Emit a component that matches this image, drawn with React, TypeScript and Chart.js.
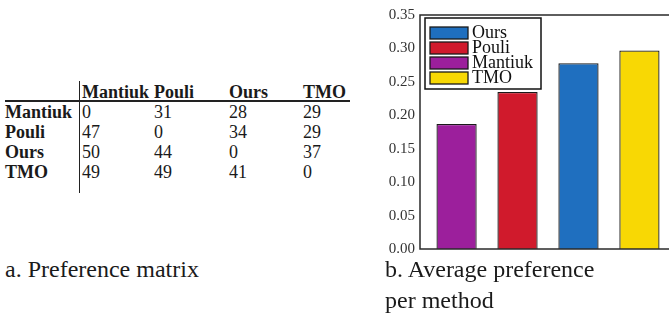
import React, { useEffect, useRef } from 'react';
import { Chart, registerables } from 'chart.js';

Chart.register(...registerables);

// ---- data ----
const methods = ['Mantiuk', 'Pouli', 'Ours', 'TMO'];
const avgPreference = [0.187, 0.235, 0.278, 0.297];
const barColors = ['#9c1f9c', '#d01a2c', '#1f6fbf', '#f8d804'];
const legendOrder = ['Ours', 'Pouli', 'Mantiuk', 'TMO'];
const yTicks = [0, 0.05, 0.1, 0.15, 0.2, 0.25, 0.3, 0.35];

const matrixCols = ['Mantiuk', 'Pouli', 'Ours', 'TMO'];
const matrixRows = ['Mantiuk', 'Pouli', 'Ours', 'TMO'];
const matrixValues = [
  [0, 31, 28, 29],
  [47, 0, 34, 29],
  [50, 44, 0, 37],
  [49, 49, 41, 0],
];

const captionA = 'a. Preference matrix';
const captionB1 = 'b. Average preference';
const captionB2 = 'per method';

const SERIF = '"Liberation Serif", "Times New Roman", serif';

const framePlugin = {
  id: 'frame',
  afterDatasetsDraw(chart: any) {
    const { ctx, chartArea: a } = chart;
    ctx.save();
    ctx.strokeStyle = '#2a2a2a';
    ctx.lineWidth = 1.5;
    ctx.strokeRect(a.left, a.top, a.right - a.left, a.bottom - a.top);
    ctx.restore();
  },
};

const legendPlugin = {
  id: 'boxLegend',
  afterDraw(chart: any) {
    const { ctx, chartArea: a } = chart;
    const bx = a.left + 5;
    const by = a.top + 3;
    const bw = 116;
    const bh = 71;
    ctx.save();
    ctx.fillStyle = '#ffffff';
    ctx.fillRect(bx, by, bw, bh);
    ctx.strokeStyle = '#111';
    ctx.lineWidth = 1.5;
    ctx.strokeRect(bx, by, bw, bh);
    legendOrder.forEach((name, k) => {
      const i = methods.indexOf(name);
      const cy = by + 15 + k * 15;
      ctx.fillStyle = barColors[i];
      ctx.fillRect(bx + 5, cy - 6, 38, 12);
      ctx.strokeStyle = '#1a1a1a';
      ctx.lineWidth = 1.3;
      ctx.strokeRect(bx + 5, cy - 6, 38, 12);
      ctx.fillStyle = '#111';
      ctx.font = '18px ' + SERIF;
      ctx.textBaseline = 'middle';
      ctx.textAlign = 'left';
      ctx.fillText(name, bx + 47, cy);
    });
    ctx.restore();
  },
};

function BarChart() {
  const ref = useRef<HTMLCanvasElement | null>(null);
  useEffect(() => {
    if (!ref.current) return;
    const chart = new Chart(ref.current, {
      type: 'bar',
      data: {
        datasets: [
          {
            data: methods.map((m, i) => ({ x: i, y: avgPreference[i] })),
            backgroundColor: barColors,
            borderColor: '#1a1a1a',
            borderWidth: 1.3,
            barPercentage: 0.66,
            categoryPercentage: 1,
          },
        ],
      },
      options: {
        animation: false,
        responsive: false,
        maintainAspectRatio: false,
        layout: { padding: { top: 15, right: 4, bottom: 11, left: 0 } },
        plugins: { legend: { display: false }, tooltip: { enabled: false } },
        scales: {
          x: {
            type: 'linear',
            min: -0.6,
            max: 3.6,
            offset: false,
            display: false,
            afterBuildTicks: (s: any) => {
              s.ticks = methods.map((m, i) => ({ value: i }));
            },
          },
          y: {
            min: 0,
            max: 0.35,
            grid: { display: false, drawTicks: false },
            border: { display: false },
            ticks: {
              font: { family: SERIF, size: 15 },
              color: '#333',
              padding: 5,
              callback: (v: any) => Number(v).toFixed(2),
            },
            afterBuildTicks: (s: any) => {
              s.ticks = yTicks.map((v) => ({ value: v }));
            },
            afterFit: (s: any) => {
              s.width = 40;
              s.paddingTop = 0;
              s.paddingBottom = 0;
            },
          },
        },
      } as any,
      plugins: [framePlugin, legendPlugin],
    });
    return () => chart.destroy();
  }, []);
  return (
    <canvas
      ref={ref}
      width={300}
      height={260}
      style={{ position: 'absolute', left: 380, top: 0, width: 300, height: 260 }}
    />
  );
}

function MatrixTable() {
  const colX = [82, 154, 229, 303];
  const headerY = 92;
  const rowY0 = 112;
  const rowStep = 20;
  const textStyle: React.CSSProperties = {
    position: 'absolute',
    lineHeight: '20px',
    fontFamily: SERIF,
    fontSize: 18,
    color: '#1a1a1a',
    whiteSpace: 'nowrap',
  };
  return (
    <>
      {matrixCols.map((c, j) => (
        <div key={'h' + j} style={{ ...textStyle, left: colX[j], top: headerY - 10, fontWeight: 'bold' }}>
          {c}
        </div>
      ))}
      {matrixRows.map((r, i) => (
        <React.Fragment key={'r' + i}>
          <div style={{ ...textStyle, left: 5, top: rowY0 + i * rowStep - 10, fontWeight: 'bold' }}>{r}</div>
          {matrixValues[i].map((v, j) => (
            <div key={j} style={{ ...textStyle, left: colX[j], top: rowY0 + i * rowStep - 10 }}>
              {v}
            </div>
          ))}
        </React.Fragment>
      ))}
      <div style={{ position: 'absolute', left: 5, top: 100, width: 345, height: 1.5, background: '#222' }} />
      <div style={{ position: 'absolute', left: 78.5, top: 81, width: 1.5, height: 112, background: '#222' }} />
    </>
  );
}

export default function App() {
  useEffect(() => {
    document.body.style.margin = '0';
  }, []);
  const cap: React.CSSProperties = {
    position: 'absolute',
    fontFamily: SERIF,
    fontSize: 24,
    lineHeight: '31px',
    color: '#1a1a1a',
    whiteSpace: 'nowrap',
  };
  return (
    <div style={{ position: 'relative', width: 669, height: 318, overflow: 'hidden', background: '#fff' }}>
      <MatrixTable />
      <BarChart />
      <div style={{ ...cap, left: 5, top: 254 }}>{captionA}</div>
      <div style={{ ...cap, left: 385, top: 254 }}>
        {captionB1}
        <br />
        {captionB2}
      </div>
    </div>
  );
}
